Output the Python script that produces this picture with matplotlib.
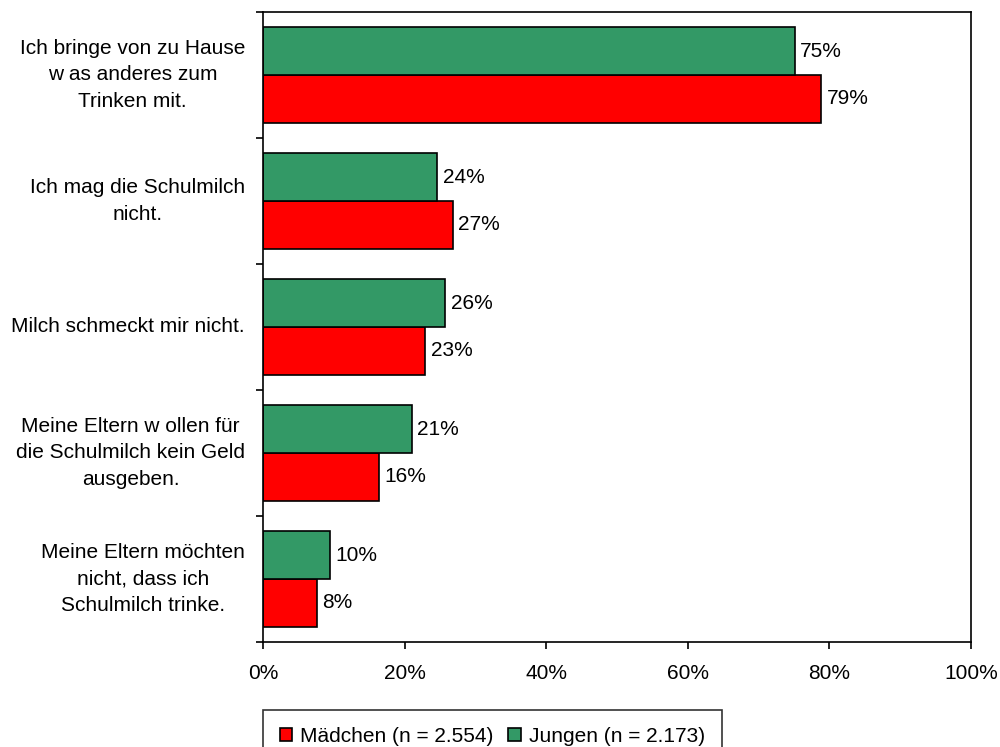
import numpy as np
import matplotlib
matplotlib.use("Agg")
import matplotlib.pyplot as plt
import matplotlib.ticker as ticker
import matplotlib.transforms as mtransforms

plt.rcParams["font.family"] = ["Liberation Sans", "DejaVu Sans"]

categories = [
    "Ich bringe von zu Hause\nw as anderes zum\nTrinken mit.",
    "Ich mag die Schulmilch\nnicht.",
    "Milch schmeckt mir nicht.",
    "Meine Eltern w ollen für\ndie Schulmilch kein Geld\nausgeben.",
    "Meine Eltern möchten\nnicht, dass ich\nSchulmilch trinke.",
]
jungen = [75.1, 24.6, 25.7, 21.0, 9.5]
maedchen = [78.8, 26.8, 22.9, 16.4, 7.6]
jungen_labels = ["75%", "24%", "26%", "21%", "10%"]
maedchen_labels = ["79%", "27%", "23%", "16%", "8%"]
x_ticks = [0, 20, 40, 60, 80, 100]

GREEN = "#339966"
RED = "#FF0000"
FS = 15

fig = plt.figure(figsize=(10, 7.47), dpi=100)
ax = fig.add_axes([0.263, 0.1406, 0.708, 0.8434])

n = len(categories)
pos = np.arange(n)
h = 0.38

bars_m = ax.barh(pos + h / 2, maedchen, height=h, color=RED, edgecolor="black",
                 linewidth=1.2, label="Mädchen (n = 2.554)")
bars_j = ax.barh(pos - h / 2, jungen, height=h, color=GREEN, edgecolor="black",
                 linewidth=1.2, label="Jungen (n = 2.173)")

for bars, labels in ((bars_j, jungen_labels), (bars_m, maedchen_labels)):
    for b, lab in zip(bars, labels):
        ax.annotate(lab, (b.get_width(), b.get_y() + b.get_height() / 2),
                    xytext=(4, 0), textcoords="offset points",
                    va="center", ha="left", fontsize=FS)

ax.set_ylim(n - 0.5, -0.5)
ax.set_xlim(0, 100)
ax.set_xticks(x_ticks)
ax.xaxis.set_major_formatter(ticker.FuncFormatter(lambda v, p: f"{v:.0f}%"))
ax.set_yticks(np.arange(n + 1) - 0.5)
ax.set_yticklabels([])
ax.tick_params(axis="y", direction="out", length=5, width=1.2)
ax.tick_params(axis="x", direction="out", length=5, width=1.2, pad=11, labelsize=FS)

# category labels: block right-aligned a bit left of the axis, lines centred
lab_tr = ax.get_yaxis_transform() + mtransforms.ScaledTranslation(-18 / 100, 0, fig.dpi_scale_trans)
for i, c in enumerate(categories):
    ax.text(0, i, c, transform=lab_tr, ha="right", va="center", fontsize=FS,
            linespacing=1.5, multialignment="center")

for s in ax.spines.values():
    s.set_linewidth(1.2)

handles = [bars_m, bars_j]
leg = fig.legend(handles, [hh.get_label() for hh in handles], loc="upper center",
                 bbox_to_anchor=(0.4925, 1 - 710 / 747), ncol=2, frameon=True,
                 fancybox=False, edgecolor="black", fontsize=FS,
                 handlelength=0.6, handleheight=0.6, handletextpad=0.4,
                 columnspacing=0.7, borderpad=0.8, borderaxespad=0)
leg.get_frame().set_linewidth(1.2)

fig.savefig("out.png", dpi=100)
